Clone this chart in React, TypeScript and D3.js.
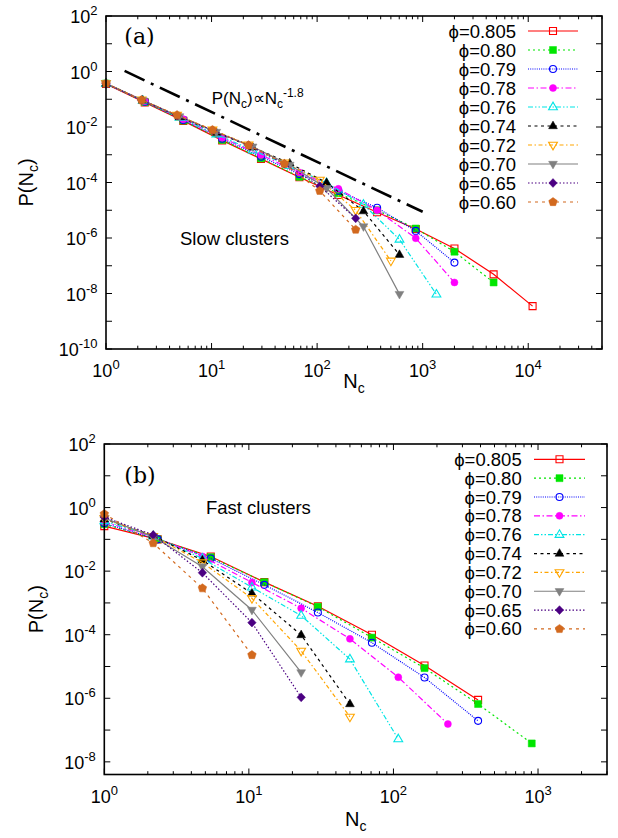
import React from "react";
import * as d3 from "d3";

// ---------- legend / series labels ----------
const phiLabels = ["0.805", "0.80", "0.79", "0.78", "0.76", "0.74", "0.72", "0.70", "0.65", "0.60"];

// ---------- panel (a): slow clusters ----------
const xA_a = [1, 2.33, 5.4, 12.6, 29.4, 68, 159, 370, 860, 2000, 4700, 11000];
const xB_a = [1, 2.23, 4.97, 11.1, 24.5, 55, 123, 275, 603, 1350];
const xC_a = [1, 2.17, 4.71, 10.2, 22.4, 49, 106, 232, 500];

const pA_805 = [0.355, 0.076, 0.0166, 0.0033, 7.1e-4, 1.55e-4, 3.55e-5, 8.5e-6, 2.1e-6, 4.2e-7, 4.9e-8, 3.5e-9];
const pA_80 = [0.37, 0.079, 0.017, 0.0034, 7.4e-4, 1.6e-4, 4.1e-5, 1.0e-5, 2.2e-6, 3.2e-7, 2.5e-8];
const pA_79 = [0.363, 0.081, 0.018, 0.0038, 8.5e-4, 2.0e-4, 5.0e-5, 1.23e-5, 1.8e-6, 1.3e-7];
const pA_78 = [0.37, 0.085, 0.019, 0.0041, 9.8e-4, 2.3e-4, 5.9e-5, 1.0e-5, 9.8e-7, 2.5e-8];
const pA_76 = [0.37, 0.089, 0.022, 0.0055, 0.00145, 4.0e-4, 9.5e-5, 1.6e-5, 8.9e-7, 9.3e-9];
const pA_74 = [0.37, 0.091, 0.023, 0.0063, 0.00186, 4.9e-4, 9.8e-5, 9.3e-6, 2.5e-7];
const pA_72 = [0.38, 0.095, 0.027, 0.0079, 0.0023, 5.2e-4, 1.23e-4, 1.0e-5, 1.5e-7];
const pA_70 = [0.37, 0.091, 0.024, 0.0066, 0.00195, 4.3e-4, 6.2e-5, 2.6e-6, 9.5e-9];
const pA_65 = [0.37, 0.093, 0.026, 0.0076, 0.0022, 4.7e-4, 7.4e-5, 5.1e-6];
const pA_60 = [0.37, 0.093, 0.027, 0.0078, 0.0022, 4.7e-4, 5.0e-5, 2.0e-6];

// guide line P(Nc) ∝ Nc^-1.8
const guideX = [1.5, 1000];
const guideY = [1.05, 8.8e-6];

// ---------- panel (b): fast clusters ----------
const xA_b = [1, 2.34, 5.45, 12.8, 30, 71, 164, 385, 905];
const xC_b = [1, 2.18, 4.77, 10.5, 23, 50, 108, 238];

const pB_805 = [0.26, 0.1, 0.029, 0.0045, 7.9e-4, 1.0e-4, 1.07e-5, 8.9e-7];
const pB_80 = [0.3, 0.1, 0.0275, 0.0045, 7.6e-4, 8.1e-5, 8.9e-6, 6.6e-7, 3.8e-8];
const pB_79 = [0.32, 0.1, 0.025, 0.0037, 5.0e-4, 5.6e-5, 4.5e-6, 1.95e-7];
const pB_78 = [0.355, 0.12, 0.029, 0.0044, 6.8e-4, 7.4e-5, 4.6e-6, 1.55e-7];
const pB_76 = [0.38, 0.126, 0.025, 0.0031, 4.0e-4, 1.7e-5, 5.2e-8];
const pB_74 = [0.43, 0.13, 0.022, 0.002, 9.8e-5, 6.6e-7];
const pB_72 = [0.45, 0.126, 0.0186, 0.0014, 3.1e-5, 2.6e-7];
const pB_70 = [0.47, 0.12, 0.0138, 6.0e-4, 6.5e-6];
const pB_65 = [0.5, 0.138, 0.0089, 2.4e-4, 1.07e-6];
const pB_60 = [0.63, 0.076, 0.0029, 2.3e-5];

// ---------- tick labels ----------
const xExpA = ["0", "1", "2", "3", "4"];
const yExpA = ["2", "0", "-2", "-4", "-6", "-8", "-10"];
const xExpB = ["0", "1", "2", "3"];
const yExpB = ["2", "0", "-2", "-4", "-6", "-8"];

// ---------- styles ----------
const seriesColors = ["#ff0000", "#00e600", "#0000ff", "#ff00ff", "#00e5e5", "#000000", "#ffa500", "#808080", "#4b0082", "#d2691e"];
const seriesDash = ["", "2,3", "1,1.2", "6,2.5,1.5,2.5", "5,2,1.5,2,1.5,2", "3,3.5", "4,2.5,1.5,2.5", "", "1.5,2", "3,4"];
const seriesShape = ["square", "square", "circle", "circle", "triUp", "triUp", "triDown", "triDown", "diamond", "pentagon"];
const seriesFilled = [false, true, false, true, false, true, false, true, true, true];

const SANS = "'Liberation Sans', Arial, Helvetica, sans-serif";
const SERIF = "'DejaVu Serif', 'Liberation Serif', serif";

function markerPath(shape: string): string {
  switch (shape) {
    case "square":
      return "M-3.5,-3.5H3.5V3.5H-3.5Z";
    case "circle":
      return d3.symbol(d3.symbolCircle, Math.PI * 3.5 * 3.5)() as string;
    case "triUp":
      return "M0,-4.9L4.4,2.7L-4.4,2.7Z";
    case "triDown":
      return "M0,4.9L4.4,-2.7L-4.4,-2.7Z";
    case "diamond":
      return "M0,-4.4L4.2,0L0,4.4L-4.2,0Z";
    case "pentagon": {
      const pts = d3.range(5).map((i) => {
        const a = -Math.PI / 2 + (i * 2 * Math.PI) / 5;
        return [4.5 * Math.cos(a), 4.5 * Math.sin(a)];
      });
      return "M" + pts.map((p) => p[0].toFixed(2) + "," + p[1].toFixed(2)).join("L") + "Z";
    }
  }
  return "";
}

type PanelCfg = {
  series: [number[], number[]][];
  xDomain: [number, number];
  yDomain: [number, number];
  left: number;
  right: number;
  top: number;
  bottom: number;
  xExp: string[];
  yExp: string[];
  yDecades: number[];
  legendTextX: number;
  legendLine: [number, number];
  legendY0: number;
  legendDy: number;
  yLabelX: number;
  xLabelDy: number;
  tag: string;
  tagX: number;
  tagY: number;
  note: string;
  noteX: number;
  noteY: number;
  guide?: boolean;
};

function Marker({ shape, filled, color, x, y }: any) {
  return (
    <path
      d={markerPath(shape)}
      transform={`translate(${x},${y})`}
      fill={filled ? color : "none"}
      stroke={color}
      strokeWidth={filled ? 0.5 : 1.1}
    />
  );
}

function Panel({ cfg }: { cfg: PanelCfg }) {
  const x = d3.scaleLog().domain(cfg.xDomain).range([cfg.left, cfg.right]);
  const y = d3.scaleLog().domain(cfg.yDomain).range([cfg.bottom, cfg.top]);
  const line = d3
    .line<[number, number]>()
    .x((d) => x(d[0]))
    .y((d) => y(d[1]));

  const xMajor = cfg.xExp.map((e) => Math.pow(10, +e));
  const xMinor: number[] = [];
  for (let d = 0; d < 6; d++) {
    for (let m = 2; m <= 9; m++) {
      const v = m * Math.pow(10, d);
      if (v <= cfg.xDomain[1] * 1.0001) xMinor.push(v);
    }
  }
  const yTicks = cfg.yDecades.map((e) => Math.pow(10, e));
  const yLab = cfg.yExp.map((e) => ({ v: Math.pow(10, +e), e }));

  const cx = (cfg.left + cfg.right) / 2;
  const cy = (cfg.top + cfg.bottom) / 2;
  const major = 6;
  const minor = 3.3;

  return (
    <g>
      {/* ticks */}
      <g stroke="#000" strokeWidth={1}>
        {xMajor.map((v, i) => (
          <g key={"xm" + i}>
            <line x1={x(v)} x2={x(v)} y1={cfg.bottom} y2={cfg.bottom - major} />
            <line x1={x(v)} x2={x(v)} y1={cfg.top} y2={cfg.top + major} />
          </g>
        ))}
        {xMinor.map((v, i) => (
          <g key={"xn" + i}>
            <line x1={x(v)} x2={x(v)} y1={cfg.bottom} y2={cfg.bottom - minor} />
            <line x1={x(v)} x2={x(v)} y1={cfg.top} y2={cfg.top + minor} />
          </g>
        ))}
        {yTicks.map((v, i) => (
          <g key={"y" + i}>
            <line x1={cfg.left} x2={cfg.left + major} y1={y(v)} y2={y(v)} />
            <line x1={cfg.right} x2={cfg.right - major} y1={y(v)} y2={y(v)} />
          </g>
        ))}
      </g>
      {/* tick labels */}
      <g fontFamily={SANS} fontSize={18} fill="#000">
        {cfg.xExp.map((e, i) => (
          <text key={"xl" + i} x={x(xMajor[i])} y={cfg.bottom + 28} textAnchor="middle">
            10<tspan dy={-8} fontSize={13}>{e}</tspan>
          </text>
        ))}
        {yLab.map((t, i) => (
          <text key={"yl" + i} x={cfg.left - 8.5} y={y(t.v) + 7} textAnchor="end">
            10<tspan dy={-8} fontSize={13}>{t.e}</tspan>
          </text>
        ))}
      </g>
      {/* axis titles */}
      <text
        transform={`translate(${cfg.yLabelX},${cy}) rotate(-90)`}
        textAnchor="middle"
        fontFamily={SANS}
        fontSize={20}
      >
        P(N<tspan dy={5} fontSize={14}>c</tspan>
        <tspan dy={-5}>)</tspan>
      </text>
      <text x={cx} y={cfg.bottom + cfg.xLabelDy} textAnchor="middle" fontFamily={SANS} fontSize={20}>
        N<tspan dy={5} fontSize={14}>c</tspan>
      </text>

      {/* guide line */}
      {cfg.guide && (
        <g>
          <path
            d={line(guideX.map((v, i) => [v, guideY[i]]) as any) as string}
            stroke="#000"
            strokeWidth={2.6}
            fill="none"
            strokeDasharray="22,7,3,7"
          />
          <text x={211.7} y={104.3} fontFamily={SANS} fontSize={17}>
            P(N<tspan dy={4} fontSize={12}>c</tspan>
            <tspan dy={-4}>)∝N</tspan>
            <tspan dy={4} fontSize={12}>c</tspan>
            <tspan dy={-11} fontSize={12}>-1.8</tspan>
          </text>
        </g>
      )}

      {/* data */}
      {cfg.series.map(([xs, ys], si) => {
        const pts = xs.slice(0, ys.length).map((v, i) => [v, ys[i]] as [number, number]);
        const color = seriesColors[si];
        return (
          <g key={"s" + si}>
            <path
              d={line(pts) as string}
              fill="none"
              stroke={color}
              strokeWidth={1.2}
              strokeDasharray={seriesDash[si] || undefined}
            />
            {pts.map((p, i) => (
              <Marker key={i} shape={seriesShape[si]} filled={seriesFilled[si]} color={color} x={x(p[0])} y={y(p[1])} />
            ))}
          </g>
        );
      })}

      {/* legend */}
      <g fontFamily={SANS} fontSize={18.5}>
        {phiLabels.map((lab, i) => {
          const ly = cfg.legendY0 + i * cfg.legendDy;
          const color = seriesColors[i];
          const mx = (cfg.legendLine[0] + cfg.legendLine[1]) / 2;
          return (
            <g key={"lg" + i}>
              <text x={cfg.legendTextX} y={ly + 6.5} textAnchor="end">
                {"\u03D5=" + lab}
              </text>
              <line
                x1={cfg.legendLine[0]}
                x2={cfg.legendLine[1]}
                y1={ly}
                y2={ly}
                stroke={color}
                strokeWidth={1.2}
                strokeDasharray={seriesDash[i] || undefined}
              />
              <Marker shape={seriesShape[i]} filled={seriesFilled[i]} color={color} x={mx} y={ly} />
            </g>
          );
        })}
      </g>

      {/* annotations */}
      <text x={cfg.tagX} y={cfg.tagY} fontFamily={SERIF} fontSize={22}>
        {cfg.tag}
      </text>
      <text x={cfg.noteX} y={cfg.noteY} fontFamily={SANS} fontSize={18.5}>
        {cfg.note}
      </text>

      {/* frame */}
      <rect
        x={cfg.left}
        y={cfg.top}
        width={cfg.right - cfg.left}
        height={cfg.bottom - cfg.top}
        fill="none"
        stroke="#000"
        strokeWidth={1.6}
      />
    </g>
  );
}

const panelA: PanelCfg = {
  series: [
    [xA_a, pA_805],
    [xA_a, pA_80],
    [xA_a, pA_79],
    [xA_a, pA_78],
    [xB_a, pA_76],
    [xB_a, pA_74],
    [xC_a, pA_72],
    [xB_a, pA_70],
    [xC_a, pA_65],
    [xC_a, pA_60],
  ],
  xDomain: [1, 5e4],
  yDomain: [1e-10, 1e2],
  left: 106,
  right: 602,
  top: 16,
  bottom: 349,
  xExp: xExpA,
  yExp: yExpA,
  yDecades: [2, 1, 0, -1, -2, -3, -4, -5, -6, -7, -8, -9, -10],
  legendTextX: 516,
  legendLine: [528, 578],
  legendY0: 31,
  legendDy: 19,
  yLabelX: 33,
  xLabelDy: 39,
  tag: "(a)",
  tagX: 124.3,
  tagY: 43.5,
  note: "Slow clusters",
  noteX: 180,
  noteY: 245,
  guide: true,
};

const panelB: PanelCfg = {
  series: [
    [xA_b, pB_805],
    [xA_b, pB_80],
    [xA_b, pB_79],
    [xC_b, pB_78],
    [xC_b, pB_76],
    [xC_b, pB_74],
    [xC_b, pB_72],
    [xC_b, pB_70],
    [xC_b, pB_65],
    [xC_b, pB_60],
  ],
  xDomain: [1, 3000],
  yDomain: [4e-9, 1e2],
  left: 104.3,
  right: 607,
  top: 444,
  bottom: 774.5,
  xExp: xExpB,
  yExp: yExpB,
  yDecades: [2, 1, 0, -1, -2, -3, -4, -5, -6, -7, -8],
  legendTextX: 521.7,
  legendLine: [534, 585],
  legendY0: 459.3,
  legendDy: 18.85,
  yLabelX: 43,
  xLabelDy: 51,
  tag: "(b)",
  tagX: 124.3,
  tagY: 483.3,
  note: "Fast clusters",
  noteX: 206,
  noteY: 514,
};

export default function App() {
  return (
    <svg
      width={618}
      height={838}
      viewBox="0 0 618 838"
      style={{ position: "absolute", left: 0, top: 0, display: "block", background: "#fff" }}
    >
      <rect x={0} y={0} width={618} height={838} fill="#fff" />
      <Panel cfg={panelA} />
      <Panel cfg={panelB} />
    </svg>
  );
}
